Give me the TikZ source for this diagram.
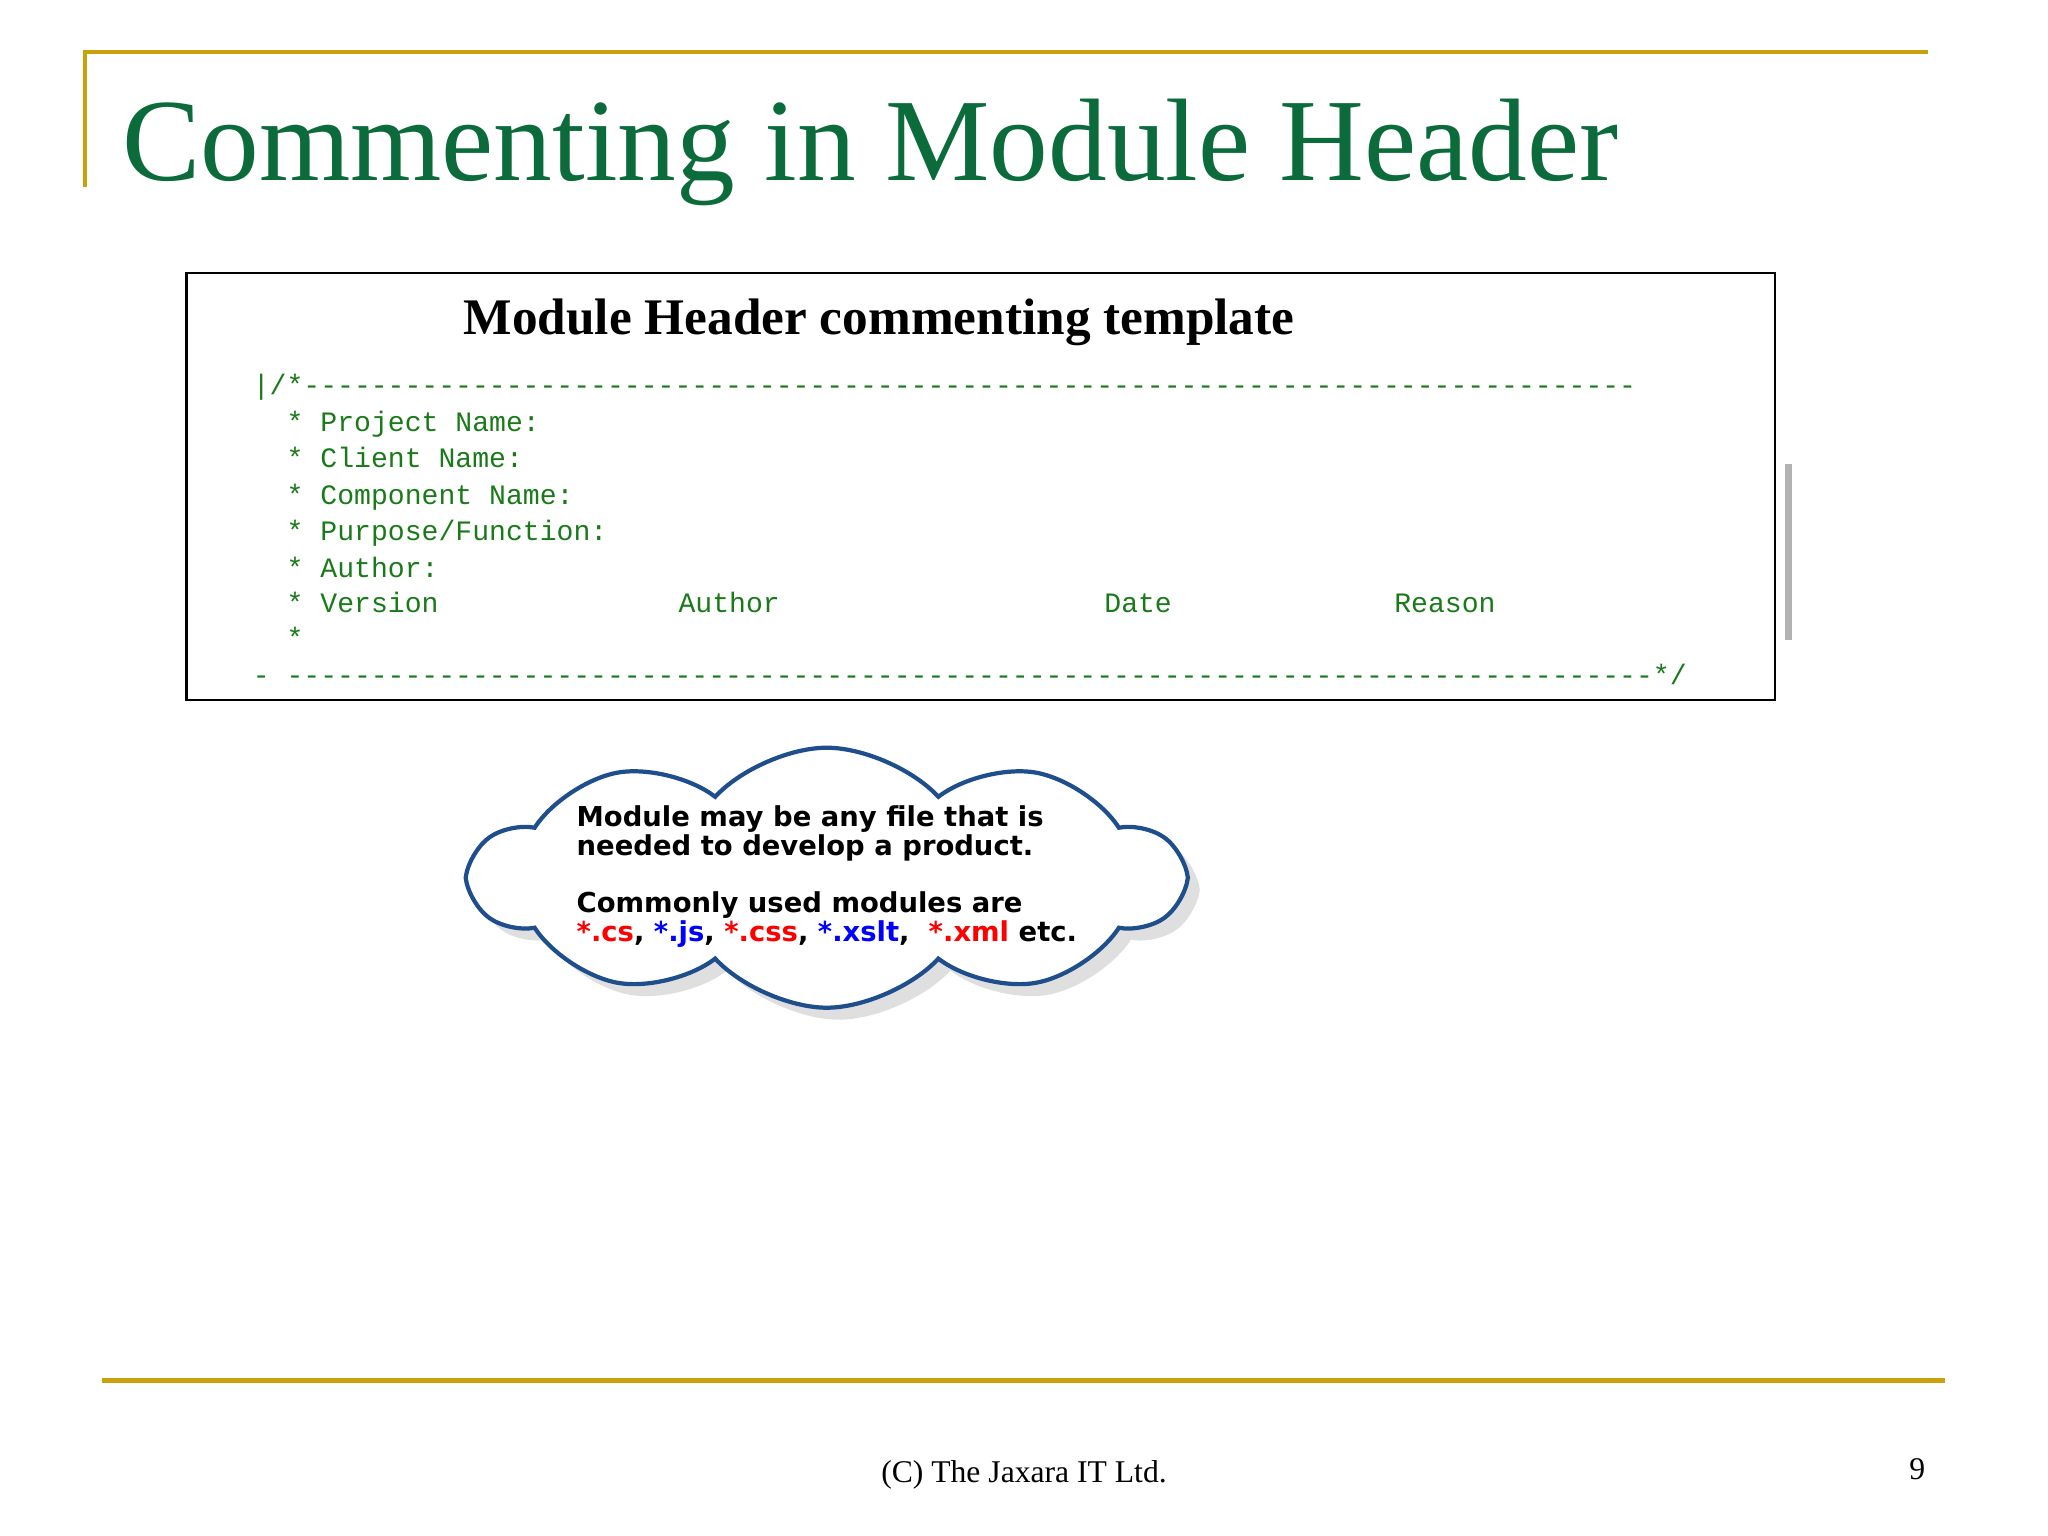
\documentclass[tikz,border=0pt]{standalone}
\usepackage{fontspec}
\setmainfont{Liberation Serif}
\newfontfamily\codefont{Liberation Mono}
\newfontfamily\cloudfont{DejaVu Sans}
\usetikzlibrary{shapes.symbols,shadows}
\definecolor{gold}{HTML}{C9A10A}
\definecolor{ttl}{HTML}{0B6B3A}
\definecolor{code}{HTML}{1A7A1A}
\definecolor{cb}{HTML}{1F4E8C}
\tikzset{codeln/.style={anchor=base west,inner sep=0pt,font=\codefont\fontsize{8}{9}\selectfont,text=code},
cl/.style={anchor=base west,inner sep=0pt,font=\cloudfont\bfseries\fontsize{7.8}{9}\selectfont}}
\newcommand{\dashten}{----------}
\begin{document}
\begin{tikzpicture}[x=0.01306cm,y=-0.01306cm]
\useasboundingbox (0,0) rectangle (1568,1176);
\draw[gold,line width=1.2pt] (65,143) coordinate(a) -- (65,40) -- (1476,40) coordinate(b);
\node[anchor=base west,inner sep=0pt,text=ttl,font=\fontsize{33.4}{36}\selectfont] (title) at (93,138) {Commenting in Module Header};
\draw[line width=0.8pt] (143,209) rectangle (1359,536);
\node[anchor=base,inner sep=0pt,font=\bfseries\fontsize{14.6}{17}\selectfont] (hd) at (673,256) {Module Header commenting template};
\node[codeln] (d1) at (193,302) {|/*\dashten\dashten\dashten\dashten\dashten\dashten\dashten---------};
\node[codeln] (l1) at (219,330) {* Project Name:};
\node[codeln] (l2) at (219,358) {* Client Name:};
\node[codeln] (l3) at (219,386) {* Component Name:};
\node[codeln] (l4) at (219,414) {* Purpose/Function:};
\node[codeln] (l5) at (219,442) {* Author:};
\node[codeln] (l6) at (219,469) {* Version};
\node[codeln] (c1) at (519,469) {Author};
\node[codeln] (c2) at (845,469) {Date};
\node[codeln] (c3) at (1067,469) {Reason};
\node[codeln] (l7) at (219,496) {*};
\node[codeln] (d2) at (193,524) {- \dashten\dashten\dashten\dashten\dashten\dashten\dashten\dashten-*/};
\draw[gray!60,line width=2pt] (1369,355) coordinate(s1) -- (1369,490) coordinate(s2);
\node[cloud,cloud puffs=10,cloud puff arc=95,aspect=2.7,draw=cb,line width=1.2pt,fill=white,
  drop shadow={shadow xshift=1.2mm,shadow yshift=-1.2mm,opacity=0.25},
  minimum width=7.1cm,minimum height=2.6cm] (cloud) at (633,672) {};
\node[cl] (t1) at (441,633) {Module may be any file that is};
\node[cl] (t2) at (441,655) {needed to develop a product.};
\node[cl] (t3) at (441,699) {Commonly used modules are};
\node[cl] (t4) at (441,721) {\textcolor{red}{*.cs}, \textcolor{blue}{*.js}, \textcolor{red}{*.css}, \textcolor{blue}{*.xslt},\ \ \textcolor{red}{*.xml} etc.};
\draw[gold,line width=1.2pt] (78,1057) coordinate(c) -- (1489,1057) coordinate(d);
\node[anchor=base,inner sep=0pt,font=\fontsize{9}{11}\selectfont] (ft) at (784,1135) {(C) The Jaxara IT Ltd.};
\node[anchor=base,inner sep=0pt,font=\fontsize{9}{11}\selectfont] (pg) at (1468,1133) {9};
\end{tikzpicture}
\end{document}
